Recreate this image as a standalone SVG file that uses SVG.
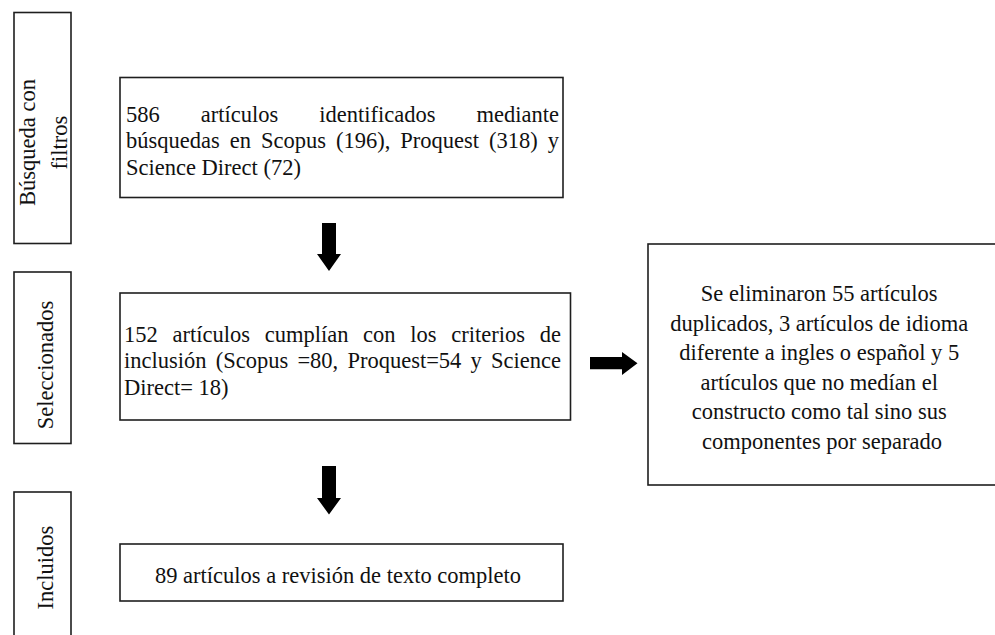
<svg xmlns="http://www.w3.org/2000/svg" width="995" height="635" viewBox="0 0 995 635">
<style>
  .box { fill: #ffffff; stroke: #1e1e1e; stroke-width: 1.6; }
  .t { font-family: "Liberation Serif", "Times New Roman", serif; font-size: 22.5px; fill: #111111; }
  .arrow { fill: #000000; stroke: none; }
</style>
<rect x="0" y="0" width="995" height="635" fill="#ffffff"/>

<g id="label-busqueda">
  <rect class="box" x="14" y="12.5" width="57" height="231"/>
  <text class="t" text-anchor="middle" transform="translate(34.5,142.5) rotate(-90)">Búsqueda con</text>
  <text class="t" text-anchor="middle" transform="translate(67,142.5) rotate(-90)">filtros</text>
</g>

<g id="label-seleccionados">
  <rect class="box" x="14" y="272" width="57" height="171.5"/>
  <text class="t" text-anchor="middle" transform="translate(53,365) rotate(-90)">Seleccionados</text>
</g>

<g id="label-incluidos">
  <rect class="box" x="14" y="492" width="57" height="150"/>
  <text class="t" text-anchor="middle" transform="translate(53,567.5) rotate(-90)">Incluidos</text>
</g>

<g id="node-identificados">
  <rect class="box" x="120" y="77.5" width="443" height="120"/>
  <text class="t" y="121.7"><tspan x="126">586</tspan><tspan x="200.8">artículos</tspan><tspan x="319.3">identificados</tspan><tspan x="559" text-anchor="end">mediante</tspan></text>
  <text class="t" y="148.4"><tspan x="126">búsquedas</tspan><tspan x="229.7">en</tspan><tspan x="260.9">Scopus</tspan><tspan x="335.9">(196),</tspan><tspan x="400.3">Proquest</tspan><tspan x="489">(318)</tspan><tspan x="559" text-anchor="end">y</tspan></text>
  <text class="t" x="126" y="175.1">Science Direct (72)</text>
</g>

<g id="node-seleccionados">
  <rect class="box" x="120" y="293" width="450.5" height="127"/>
  <text class="t" y="341.7"><tspan x="124">152</tspan><tspan x="172.5">artículos</tspan><tspan x="264.7">cumplían</tspan><tspan x="363.1">con</tspan><tspan x="410.3">los</tspan><tspan x="451.3">criterios</tspan><tspan x="561" text-anchor="end">de</tspan></text>
  <text class="t" y="368.3"><tspan x="124">inclusión</tspan><tspan x="215.7">(Scopus</tspan><tspan x="297.4">=80,</tspan><tspan x="347.4">Proquest=54</tspan><tspan x="470.5">y</tspan><tspan x="561" text-anchor="end">Science</tspan></text>
  <text class="t" x="124" y="395">Direct= 18)</text>
</g>

<g id="node-incluidos">
  <rect class="box" x="120" y="544" width="443" height="57"/>
  <text class="t" x="338" y="583" text-anchor="middle">89 artículos a revisión de texto completo</text>
</g>

<g id="node-eliminados">
  <rect class="box" x="648" y="244" width="348" height="241"/>
  <text class="t" text-anchor="middle">
    <tspan x="822" y="301">Se eliminaron 55 artículos</tspan>
    <tspan x="822" y="330.5">duplicados, 3 artículos de idioma</tspan>
    <tspan x="822" y="360">diferente a ingles o español y 5</tspan>
    <tspan x="822" y="389.5">artículos que no medían el</tspan>
    <tspan x="822" y="419">constructo como tal sino sus</tspan>
    <tspan x="822" y="448.5">componentes por separado</tspan>
  </text>
</g>

<g id="connectors">
  <polygon class="arrow" points="322,223 336,223 336,254 341,254 329,271 317,254 322,254"/>
  <polygon class="arrow" points="322,466 336,466 336,498 341,498 329,514.5 317,498 322,498"/>
  <polygon class="arrow" points="590,357 622,357 622,352 637.5,363.2 622,375 622,369.3 590,369.3"/>
</g>
</svg>
